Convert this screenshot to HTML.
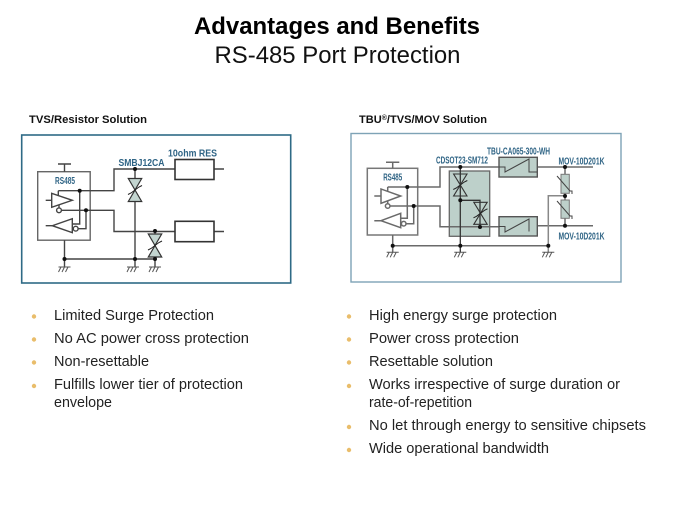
<!DOCTYPE html>
<html><head><meta charset="utf-8"><style>
html,body{margin:0;padding:0;background:#fff;width:675px;height:506px;overflow:hidden}
svg{display:block}
text{font-family:"Liberation Sans",sans-serif}
.t{font-size:14.7px;fill:#222}
.h{font-size:11px;font-weight:bold;fill:#111}
.l{font-weight:bold;fill:#2f6485;font-size:10px}
.m{font-weight:bold;fill:#2f6485;font-size:10.5px}
.w{fill:none;stroke:#444;stroke-width:1.4}
.b{fill:none;stroke:#6a6a6a;stroke-width:1.5}
</style></head><body>
<svg width="675" height="506" viewBox="0 0 675 506" xmlns="http://www.w3.org/2000/svg">
<defs>
<g id="gnd" fill="none" stroke="#555" stroke-width="1"><path d="M-6 0H6M-3.500 0L-6 5M0 0L-2.500 5M3.500 0L1 5"/></g>
<g id="tvs"><path d="M-6.700 -11.500H6.700L-6.700 11.500H6.700Z" fill="#c3d5d0" stroke="#333" stroke-width="1.200"/><path d="M-7 4.500L-4 3L4 -3L7 -4.500" fill="none" stroke="#222" stroke-width="1"/></g>
<g id="tvs2"><path d="M-6.700 -11H6.700L-6.700 11H6.700Z" fill="none" stroke="#333" stroke-width="1.100"/><path d="M-7 4.500L-4 3L4 -3L7 -4.500" fill="none" stroke="#222" stroke-width="1"/></g>
</defs>

<text x="337" y="34" text-anchor="middle" font-size="24" font-weight="bold" fill="#000" textLength="286" lengthAdjust="spacingAndGlyphs">Advantages and Benefits</text>
<text x="337.500" y="63" text-anchor="middle" font-size="24" fill="#111" textLength="246" lengthAdjust="spacingAndGlyphs">RS-485 Port Protection</text>

<text class="h" x="29" y="123" textLength="118" lengthAdjust="spacingAndGlyphs">TVS/Resistor Solution</text>
<text class="h" x="359" y="123" textLength="128" lengthAdjust="spacingAndGlyphs">TBU<tspan font-size="7" dy="-3">®</tspan><tspan dy="3">/TVS/MOV Solution</tspan></text>

<!-- LEFT DIAGRAM -->
<rect x="21.700" y="135" width="269" height="148" fill="#fff" stroke="#2e6a86" stroke-width="1.600"/>
<g class="w">
<rect x="37.700" y="171.700" width="52.500" height="68.500" stroke="#666"/>
<path d="M64.500 171.700V164M58 164H71"/>
<path d="M58.300 190.700V196M58.300 190.700H114V169H175M214 169H224"/>
<path d="M79.700 190.700V224H72.300"/>
<path d="M61.500 210.300H114V231.500H175M214 231.500H224"/>
<path d="M59 205V208"/>
<path d="M78 228.700H86V210.300"/>
<path d="M64.500 240.200V267M64.500 259H155M135 169V267M155 231.500V267"/>
<path d="M45.700 200.300H51.700M45.700 225.700H52.300"/>
<path d="M51.700 193.300V207.300L72.300 200.300Z" fill="#fff"/>
<path d="M72.300 218.700V232.700L52.300 225.700Z" fill="#fff"/>
<circle cx="59" cy="210.300" r="2.400" fill="#fff"/>
<circle cx="75.700" cy="228.700" r="2.400" fill="#fff"/>
</g>
<rect x="175" y="159.500" width="39" height="20" fill="#fff" stroke="#333" stroke-width="1.600"/>
<rect x="175" y="221.300" width="39" height="20.400" fill="#fff" stroke="#333" stroke-width="1.600"/>
<use href="#tvs" x="135" y="190"/>
<use href="#tvs" x="155" y="245.500"/>
<g fill="#111">
<circle cx="79.700" cy="190.700" r="2"/><circle cx="86" cy="210.300" r="2"/><circle cx="135" cy="169" r="2"/><circle cx="155" cy="231" r="2"/>
<circle cx="64.500" cy="259" r="2"/><circle cx="135" cy="259" r="2"/><circle cx="155" cy="259" r="2"/>
</g>
<use href="#gnd" x="64.500" y="267"/><use href="#gnd" x="133" y="267"/><use href="#gnd" x="155" y="267"/>
<text class="m" x="65" y="184" text-anchor="middle" textLength="20" lengthAdjust="spacingAndGlyphs">RS485</text>
<text class="l" x="118.500" y="166" textLength="46" lengthAdjust="spacingAndGlyphs">SMBJ12CA</text>
<text class="l" x="168" y="156.500" textLength="49" lengthAdjust="spacingAndGlyphs">10ohm RES</text>

<!-- RIGHT DIAGRAM -->
<rect x="351" y="133.500" width="270" height="148.500" fill="#fff" stroke="#7ea3b6" stroke-width="1.400"/>
<rect x="449.300" y="171" width="40.400" height="65.300" fill="#bdd0ca" stroke="#666" stroke-width="1.300"/>
<g class="b">
<rect x="367.300" y="168.300" width="50.400" height="66.700" stroke="#777"/>
<path d="M392.700 168.300V162.300M386 162.300H399.300"/>
<path d="M387.700 187V191M387.700 187H440V167H593"/>
<path d="M407.300 187V218.300H400.700"/>
<path d="M390 206H440V226.700H499"/>
<path d="M387.700 201V204"/>
<path d="M405.700 223.700H413.700V206"/>
<path d="M392.700 235V252.300M392.700 245.700H548.300"/>
<path d="M537 225.700H593"/>
<path d="M548.300 252.300V195.700H565" stroke="#888"/>
<path d="M374.300 196H381M374.300 220.700H381"/>
<path d="M381 189V203.300L400.700 196Z" fill="#fff"/>
<path d="M400.700 213.300V227.700L381 220.700Z" fill="#fff"/>
<circle cx="387.700" cy="206" r="2.300" fill="#fff"/>
<circle cx="403.700" cy="223.700" r="2.300" fill="#fff"/>
</g>
<path d="M460.300 167V252.300M460.300 200.300H480V227" fill="none" stroke="#333" stroke-width="1.300"/>
<use href="#tvs2" x="460.300" y="185"/>
<use href="#tvs2" x="480.500" y="213.300"/>
<path d="M565 167V174M565 193V200M565 218V226" stroke="#555" stroke-width="1.300"/>
<rect x="561" y="174.300" width="8.300" height="19" fill="#bdd0ca" stroke="#777"/>
<rect x="561" y="200" width="8.300" height="18.300" fill="#bdd0ca" stroke="#777"/>
<path d="M557 176L570 191H572V194M557 201L570 216H572V219" fill="none" stroke="#444" stroke-width="1"/>
<rect x="499" y="157.300" width="38.300" height="19.700" fill="#bdd0ca" stroke="#555" stroke-width="1.400"/>
<rect x="499" y="216.700" width="38.300" height="19.300" fill="#bdd0ca" stroke="#555" stroke-width="1.400"/>
<path d="M499 167H505V172L529 159V172H537M499 226.500H505V232L529 219V231.500" fill="none" stroke="#444" stroke-width="1"/>
<g fill="#111">
<circle cx="407.300" cy="187" r="2"/><circle cx="413.700" cy="206" r="2"/><circle cx="460.300" cy="167" r="2"/><circle cx="460.300" cy="200.300" r="2"/><circle cx="480" cy="227" r="2"/>
<circle cx="392.700" cy="245.700" r="2"/><circle cx="460.300" cy="245.700" r="2"/><circle cx="548.300" cy="245.700" r="2"/>
<circle cx="565" cy="167" r="2"/><circle cx="565" cy="196" r="2"/><circle cx="565" cy="225.700" r="2"/>
</g>
<use href="#gnd" x="392.700" y="252.300"/><use href="#gnd" x="460.300" y="252.300"/><use href="#gnd" x="548.300" y="252.300"/>
<text class="m" x="392.700" y="180.500" text-anchor="middle" textLength="19" lengthAdjust="spacingAndGlyphs">RS485</text>
<text class="m" x="436" y="163.500" textLength="52" lengthAdjust="spacingAndGlyphs">CDSOT23-SM712</text>
<text class="m" x="487" y="154.500" textLength="63" lengthAdjust="spacingAndGlyphs">TBU-CA065-300-WH</text>
<text class="m" x="558.500" y="164.500" textLength="46" lengthAdjust="spacingAndGlyphs">MOV-10D201K</text>
<text class="m" x="558.500" y="239.500" textLength="46" lengthAdjust="spacingAndGlyphs">MOV-10D201K</text>

<!-- BULLETS -->
<g fill="#e9bd6b">
<circle cx="34" cy="316.500" r="2.200"/><circle cx="34" cy="339.500" r="2.200"/><circle cx="34" cy="362.500" r="2.200"/><circle cx="34" cy="386" r="2.200"/>
<circle cx="349" cy="316.500" r="2.200"/><circle cx="349" cy="339.500" r="2.200"/><circle cx="349" cy="362.500" r="2.200"/><circle cx="349" cy="386" r="2.200"/><circle cx="349" cy="427" r="2.200"/><circle cx="349" cy="450" r="2.200"/>
</g>
<text class="t" x="54" y="320" textLength="160" lengthAdjust="spacingAndGlyphs">Limited Surge Protection</text>
<text class="t" x="54" y="343" textLength="195" lengthAdjust="spacingAndGlyphs">No AC power cross protection</text>
<text class="t" x="54" y="366" textLength="95" lengthAdjust="spacingAndGlyphs">Non-resettable</text>
<text class="t" x="54" y="389" textLength="189" lengthAdjust="spacingAndGlyphs">Fulfills lower tier of protection</text>
<text class="t" x="54" y="407" textLength="58" lengthAdjust="spacingAndGlyphs">envelope</text>
<text class="t" x="369" y="320" textLength="188" lengthAdjust="spacingAndGlyphs">High energy surge protection</text>
<text class="t" x="369" y="343" textLength="150" lengthAdjust="spacingAndGlyphs">Power cross protection</text>
<text class="t" x="369" y="366" textLength="124" lengthAdjust="spacingAndGlyphs">Resettable solution</text>
<text class="t" x="369" y="389" textLength="251" lengthAdjust="spacingAndGlyphs">Works irrespective of surge duration or</text>
<text class="t" x="369" y="407" textLength="103" lengthAdjust="spacingAndGlyphs">rate-of-repetition</text>
<text class="t" x="369" y="430" textLength="277" lengthAdjust="spacingAndGlyphs">No let through energy to sensitive chipsets</text>
<text class="t" x="369" y="453" textLength="180" lengthAdjust="spacingAndGlyphs">Wide operational bandwidth</text>
</svg>
</body></html>
